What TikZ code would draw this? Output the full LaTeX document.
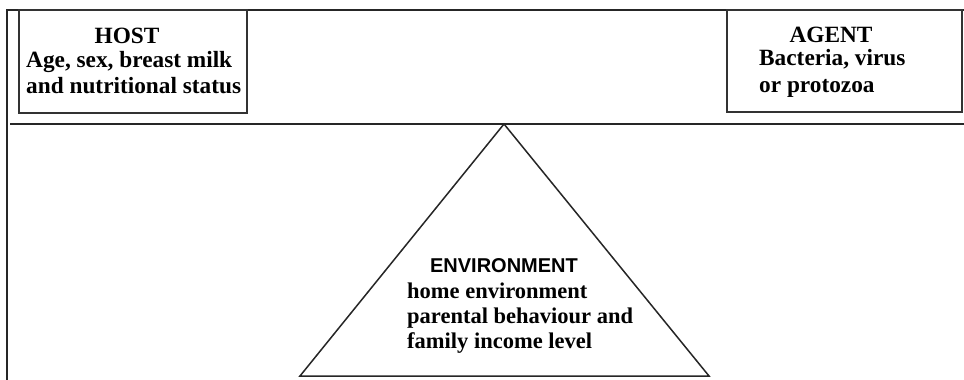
\documentclass[tikz,border=0pt]{standalone}
\usepackage{fontspec}
\setmainfont{Liberation Serif}
\newfontfamily\envsans{Liberation Sans}
\begin{document}
\begin{tikzpicture}[x=1pt,y=-1pt,
  frame/.style={draw=black!85, line width=1.2pt},
  boxst/.style={draw=black!80, line width=2pt},
  serifbold/.style={font=\fontsize{23.3}{26}\selectfont\bfseries, inner sep=0pt},
  envserif/.style={font=\fontsize{22.5}{25}\selectfont\bfseries, inner sep=0pt},
  sansbold/.style={font=\envsans\fontsize{20}{22}\selectfont\bfseries, inner sep=0pt}]
\useasboundingbox (0,0) rectangle (964,380);
\fill[white] (0,0) rectangle (964,380);
% outer frame
\draw[frame] (7,380) -- (7,10) -- (964,10);
% boxes
\draw[boxst] (19,10) rectangle (247,113);
\draw[boxst] (727,10) rectangle (962,112);
% beam
\draw[line width=2pt, black!85] (10,124) -- (964,124);
% triangle
\coordinate (apex) at (504,124);
\coordinate (bl) at (300,376);
\coordinate (br) at (709,376);
\draw[line width=1.5pt, black!85] (apex) -- (br) -- (bl) -- cycle;
% host text
\node[serifbold, anchor=base] (host) at (127,43) {HOST};
\node[serifbold, anchor=base west] (h1) at (26,67) {Age, sex, breast milk};
\node[serifbold, anchor=base west] (h2) at (26,93) {and nutritional status};
% agent text
\node[serifbold, anchor=base] (agent) at (831,42) {AGENT};
\node[serifbold, anchor=base west] (a1) at (759,65) {Bacteria, virus};
\node[serifbold, anchor=base west] (a2) at (759,92) {or protozoa};
% environment text
\node[sansbold, anchor=base] (env) at (504,272) {ENVIRONMENT};
\node[envserif, anchor=base west] (e1) at (407,298) {home environment};
\node[envserif, anchor=base west] (e2) at (407,323) {parental behaviour and};
\node[envserif, anchor=base west] (e3) at (407,348) {family income level};
\end{tikzpicture}
\end{document}
